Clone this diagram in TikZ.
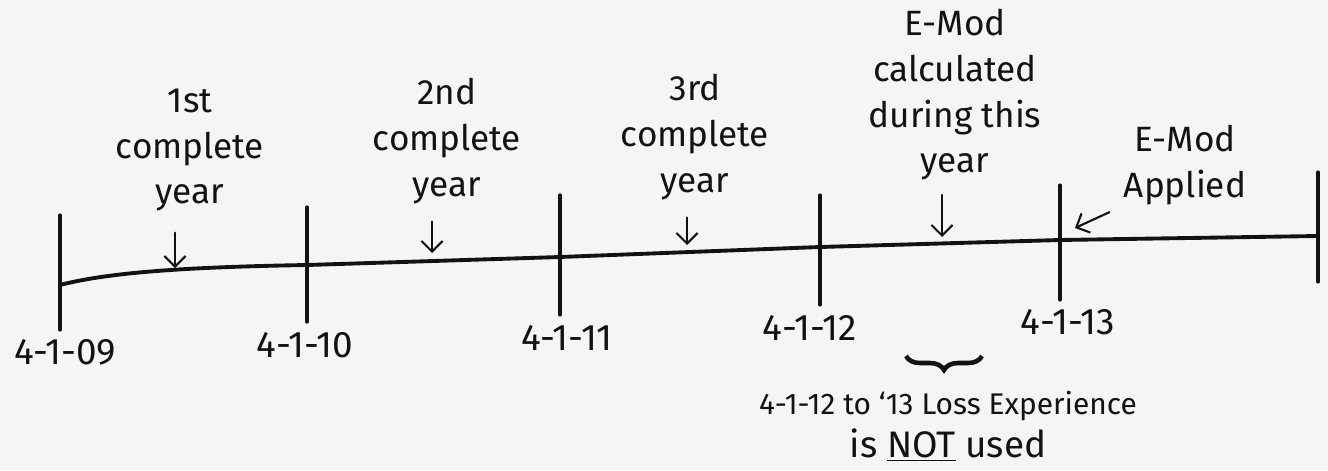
\documentclass[tikz,border=0pt]{standalone}
\usepackage{fontspec}
\setmainfont{Fira Sans}
\usetikzlibrary{arrows.meta, positioning, decorations.pathreplacing}
\definecolor{paper}{RGB}{245,245,245}
\definecolor{ink}{RGB}{18,18,18}

\begin{document}
\begin{tikzpicture}[x=0.02cm, y=-0.02cm,
  tick/.style={ink, line width=1.8pt, line cap=round},
  note/.style={ink, align=center, inner sep=0pt, font=\fontsize{20}{26}\selectfont},
  datelbl/.style={ink, inner sep=0pt, font=\fontsize{21}{24}\selectfont},
  pointer/.style={ink, line width=1.2pt, line cap=round, -{Straight Barb[length=6pt,width=12pt]}}]
  \fill[paper] (0,0) rectangle (1328,470);
  \useasboundingbox (0,0) rectangle (1328,470);
  % points on the time line
  \coordinate (t0) at (60,285);
  \coordinate (t1) at (307,265);
  \coordinate (t2) at (560,257);
  \coordinate (t3) at (820,247);
  \coordinate (t4) at (1060,240);
  \coordinate (t5) at (1318,236);
  \draw[ink, line width=2.2pt] (t0) .. controls (110,272) and (190,267) .. (t1) -- (t2) -- (t3) -- (t4) -- (t5);
  \foreach \x/\top/\bot in {60/215/330, 307/207/322, 560/195/315, 820/195/305, 1060/185/300, 1318/172/282}
    \draw[tick] (\x,\top) -- (\x,\bot);
  % dates
  \foreach \x/\y/\t [count=\i from 0] in {65/352/4-1-09, 305/345/4-1-10, 567/338/4-1-11, 810/328/4-1-12, 1068/322/4-1-13}
    \node[datelbl] (d\i) at (\x,\y) {\t};
  % years
  \node[note] (y1) at (190,150) {1st\\complete\\year};
  \node[note] (y2) at (447,141) {2nd\\complete\\year};
  \node[note] (y3) at (695,137) {3rd\\complete\\year};
  \node[note] (calc) at (955,95) {E-Mod\\calculated\\during this\\year};
  \node[note] (app) at (1185,165) {E-Mod\\Applied};
  \coordinate (a1) at (175,268);
  \coordinate (a2) at (432,253);
  \coordinate (a3) at (687,245);
  \coordinate (a4) at (942,237);
  \coordinate (a5) at (1075,228);
  \draw[pointer, shorten <=12pt] (y1.south -| a1) -- (a1);
  \draw[pointer, shorten <=10pt] (y2.south -| a2) -- (a2);
  \draw[pointer, shorten <=10pt] (y3.south -| a3) -- (a3);
  \draw[pointer, shorten <=8pt] (calc.south -| a4) -- (a4);
  \draw[pointer] ([xshift=-8pt,yshift=-4pt]app.south west) -- (a5);
  % not used part
  \coordinate (br1) at (906,356);
  \coordinate (br2) at (982,356);
  \draw[ink, line width=2.6pt, decorate, decoration={brace, mirror, amplitude=8pt}] (br1) -- (br2);
  \node[ink, font=\fontsize{17}{20}\selectfont] (loss) at (948,406) {4-1-12 to ‘13 Loss Experience};
  \node[ink, font=\fontsize{21}{24}\selectfont] (used) at (948,445) {is \underline{NOT} used};
\end{tikzpicture}
\end{document}
